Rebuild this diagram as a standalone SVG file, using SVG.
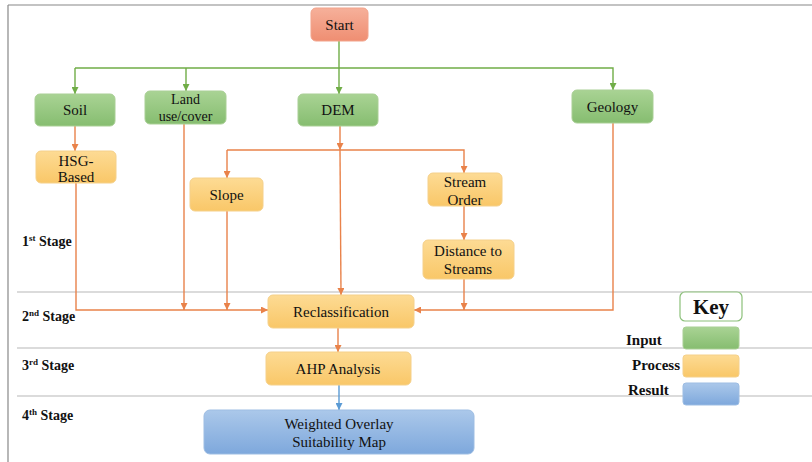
<svg xmlns="http://www.w3.org/2000/svg" width="812" height="462" viewBox="0 0 812 462">
<style>
text{font-family:'Liberation Serif','Times New Roman',Tinos,'DejaVu Serif',serif;fill:#111;}
.t{font-size:15px;text-anchor:middle;}
.ts{font-size:14px;text-anchor:middle;}
.st{font-size:14px;font-weight:bold;}
.sup{font-size:9px;}
.kl{font-size:15px;font-weight:bold;}
.g{fill:url(#gG);stroke:#A9CF95;stroke-width:1;}
.y{fill:url(#gY);stroke:#F5D08A;stroke-width:1;}
.b{fill:url(#gB);stroke:#9DBDE3;stroke-width:1;}
.cg{fill:none;stroke:#70AD47;stroke-width:1.4;}
.co{fill:none;stroke:#E9824A;stroke-width:1.4;}
.cb{fill:none;stroke:#5B9BD5;stroke-width:1.4;}
.sl{stroke:#B8B8B8;stroke-width:1.2;}
</style>
<defs>
<linearGradient id="gG" x1="0" y1="0" x2="0" y2="1"><stop offset="0" stop-color="#A9D394"/><stop offset="1" stop-color="#86BD70"/></linearGradient>
<linearGradient id="gY" x1="0" y1="0" x2="0" y2="1"><stop offset="0" stop-color="#FDDB94"/><stop offset="1" stop-color="#F9C768"/></linearGradient>
<linearGradient id="gB" x1="0" y1="0" x2="0" y2="1"><stop offset="0" stop-color="#ABC8EA"/><stop offset="1" stop-color="#7EA8DC"/></linearGradient>
<linearGradient id="gR" x1="0" y1="0" x2="0" y2="1"><stop offset="0" stop-color="#F6B09A"/><stop offset="1" stop-color="#EF8E72"/></linearGradient>
<marker id="aG" viewBox="0 0 10 10" refX="10" refY="5" markerWidth="5" markerHeight="5" orient="auto"><path d="M0,0 L10,5 L0,10 z" fill="#70AD47"/></marker>
<marker id="aO" viewBox="0 0 10 10" refX="10" refY="5" markerWidth="5" markerHeight="5" orient="auto"><path d="M0,0 L10,5 L0,10 z" fill="#E9824A"/></marker>
<marker id="aB" viewBox="0 0 10 10" refX="10" refY="5" markerWidth="5" markerHeight="5" orient="auto"><path d="M0,0 L10,5 L0,10 z" fill="#5B9BD5"/></marker>
</defs>
<rect width="812" height="462" fill="#fff"/>
<g id="frame">
<line x1="8" y1="5" x2="812" y2="5" stroke="#888" stroke-width="1.2"/>
<line x1="8" y1="5" x2="8" y2="462" stroke="#888" stroke-width="1.2"/>
<line class="sl" x1="17" y1="292" x2="812" y2="292"/>
<line class="sl" x1="17" y1="348" x2="812" y2="348"/>
<line class="sl" x1="17" y1="396" x2="812" y2="396"/>
</g>
<g id="stages">
<text class="st" x="22" y="246">1<tspan class="sup" dy="-5">st</tspan><tspan dy="5"> Stage</tspan></text>
<text class="st" x="22" y="321">2<tspan class="sup" dy="-5">nd</tspan><tspan dy="5"> Stage</tspan></text>
<text class="st" x="22" y="370">3<tspan class="sup" dy="-5">rd</tspan><tspan dy="5"> Stage</tspan></text>
<text class="st" x="22" y="420">4<tspan class="sup" dy="-5">th</tspan><tspan dy="5"> Stage</tspan></text>
</g>
<g id="connectors">
<line class="cg" x1="339" y1="41" x2="339" y2="68"/>
<polyline class="cg" points="75,68 613,68 613,90" marker-end="url(#aG)"/>
<line class="cg" x1="75" y1="68" x2="75" y2="94" marker-end="url(#aG)"/>
<line class="cg" x1="186" y1="68" x2="186" y2="91" marker-end="url(#aG)"/>
<line class="cg" x1="339" y1="68" x2="339" y2="94" marker-end="url(#aG)"/>
<line class="co" x1="75" y1="126" x2="75" y2="151" marker-end="url(#aO)"/>
<line class="co" x1="340" y1="126" x2="340" y2="150" marker-end="url(#aO)"/>
<line class="co" x1="340" y1="150" x2="341" y2="295" marker-end="url(#aO)"/>
<polyline class="co" points="227,150 464,150 464,173" marker-end="url(#aO)"/>
<line class="co" x1="227" y1="150" x2="227" y2="178" marker-end="url(#aO)"/>
<line class="co" x1="464" y1="206" x2="464" y2="240" marker-end="url(#aO)"/>
<polyline class="co" points="76,183 76,310 268,310" marker-end="url(#aO)"/>
<line class="co" x1="184" y1="124" x2="184" y2="310" marker-end="url(#aO)"/>
<line class="co" x1="227" y1="211" x2="227" y2="310" marker-end="url(#aO)"/>
<polyline class="co" points="613,123 613,310 414,310" marker-end="url(#aO)"/>
<line class="co" x1="464" y1="279" x2="464" y2="310" marker-end="url(#aO)"/>
<line class="co" x1="338" y1="328" x2="338" y2="352" marker-end="url(#aO)"/>
<line class="cb" x1="339" y1="385" x2="339" y2="410" marker-end="url(#aB)"/>
</g>
<g id="start"><rect x="311" y="8" width="57" height="33" rx="5" fill="url(#gR)" stroke="#F2A38B"/><text class="t" x="339.5" y="30">Start</text></g>
<g id="soil"><rect class="g" x="35" y="94" width="80" height="32" rx="5"/><text class="t" x="75" y="115">Soil</text></g>
<g id="landuse"><rect class="g" x="145" y="91" width="81" height="33" rx="5"/><text class="ts" x="185.5" y="104">Land</text><text class="ts" x="185.5" y="121">use/cover</text></g>
<g id="dem"><rect class="g" x="298" y="94" width="80" height="32" rx="5"/><text class="t" x="338" y="115">DEM</text></g>
<g id="geology"><rect class="g" x="572" y="90" width="81" height="33" rx="5"/><text class="t" x="612.5" y="112">Geology</text></g>
<g id="hsg"><rect class="y" x="36" y="151" width="80" height="32" rx="5"/><text class="t" x="76" y="166">HSG-</text><text class="t" x="76" y="182">Based</text></g>
<g id="slope"><rect class="y" x="190" y="178" width="73" height="33" rx="5"/><text class="t" x="226.5" y="200">Slope</text></g>
<g id="streamorder"><rect class="y" x="428" y="173" width="74" height="33" rx="5"/><text class="t" x="465" y="187">Stream</text><text class="t" x="465" y="205">Order</text></g>
<g id="distance"><rect class="y" x="423" y="240" width="91" height="39" rx="5"/><text class="t" x="468" y="256">Distance to</text><text class="t" x="468" y="274">Streams</text></g>
<g id="reclass"><rect class="y" x="268" y="295" width="146" height="33" rx="5"/><text class="t" x="341" y="317">Reclassification</text></g>
<g id="ahp"><rect class="y" x="266" y="352" width="145" height="33" rx="5"/><text class="t" x="338" y="374">AHP Analysis</text></g>
<g id="result"><rect class="b" x="204" y="410" width="270" height="44" rx="6"/><text class="t" x="339" y="429">Weighted Overlay</text><text class="t" x="339" y="447">Suitability Map</text></g>
<g id="key">
<rect x="680" y="292" width="62" height="29" rx="5" fill="#fff" stroke="#8CC07A" stroke-width="1.2"/>
<text x="711" y="314" style="font-size:21px;font-weight:bold;text-anchor:middle">Key</text>
<text class="kl" x="626" y="345">Input</text>
<rect class="g" x="683" y="327" width="56" height="22" rx="3"/>
<text class="kl" x="632" y="370">Process</text>
<rect class="y" x="683" y="355" width="56" height="22" rx="3"/>
<text class="kl" x="628" y="395">Result</text>
<rect class="b" x="683" y="383" width="56" height="22" rx="3"/>
</g>
</svg>
